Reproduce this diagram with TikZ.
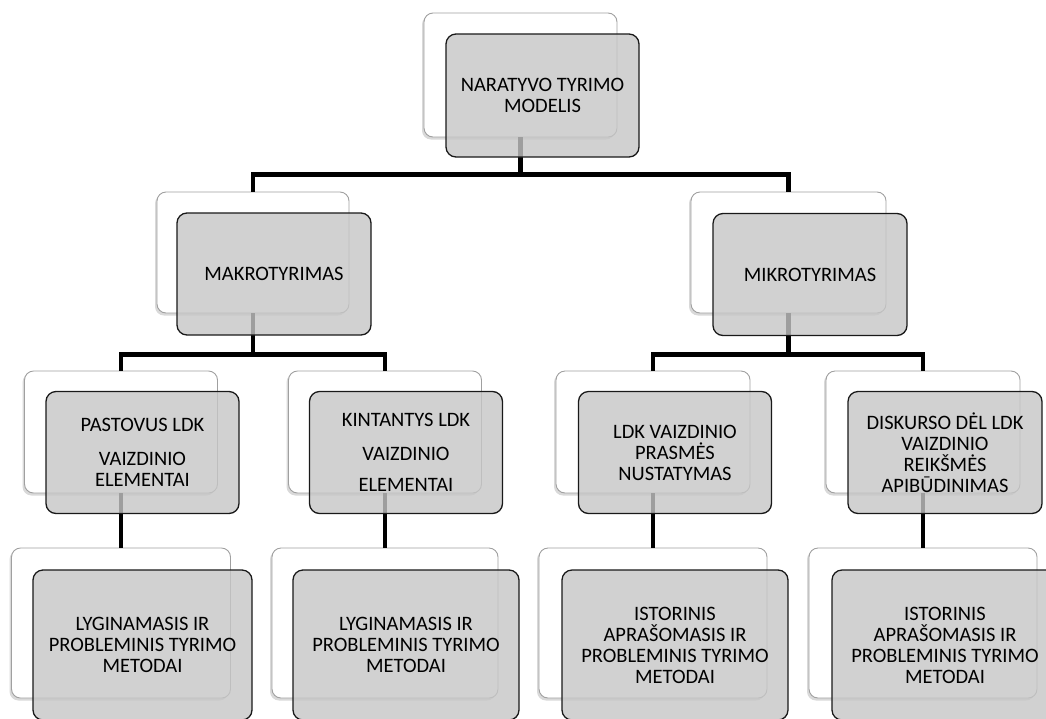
\documentclass[tikz,border=0pt]{standalone}
\usepackage{fontspec}
\setmainfont{Carlito}
\usetikzlibrary{shadows}
\definecolor{fgfill}{RGB}{198,198,198}
\definecolor{bkline}{RGB}{160,160,160}
\begin{document}
\begin{tikzpicture}[x=1pt,y=-1pt,
  backbox/.style={draw=bkline, line width=0.9pt, fill=white, rounded corners=9pt, inner sep=0pt,
    drop shadow={shadow xshift=-2pt, shadow yshift=-2.5pt, opacity=0.25, fill=black!60}},
  frontbox/.style={draw=black!90, line width=1.3pt, fill=fgfill, fill opacity=0.8, text opacity=1,
    rounded corners=10pt, inner sep=0pt, align=center, font=\fontsize{20.5}{21}\selectfont},
  conn/.style={line width=4.5pt, black, line join=miter}
]
\useasboundingbox (0,0) rectangle (1046,718);

% back boxes
\node[backbox, minimum width=193pt, minimum height=124pt] (tB) at (520.5,75) {};
\node[backbox, minimum width=192pt, minimum height=121pt] (makB) at (253,252.5) {};
\node[backbox, minimum width=195pt, minimum height=121pt] (mikB) at (788.5,252.5) {};
\node[backbox, minimum width=193pt, minimum height=122pt] (p1B) at (121,432) {};
\node[backbox, minimum width=193pt, minimum height=122pt] (p2B) at (385,432) {};
\node[backbox, minimum width=194pt, minimum height=122pt] (p3B) at (653,432) {};
\node[backbox, minimum width=194pt, minimum height=122pt] (p4B) at (923,432) {};
\node[backbox, minimum width=219pt, minimum height=150pt] (q1B) at (121,623) {};
\node[backbox, minimum width=226pt, minimum height=150pt] (q2B) at (385,623) {};
\node[backbox, minimum width=228pt, minimum height=150pt] (q3B) at (653,623) {};
\node[backbox, minimum width=228pt, minimum height=150pt] (q4B) at (923,623) {};

% connectors
\path (tB.south) ++(0,37) coordinate (j1);
\path (makB.south) ++(0,41) coordinate (j2);
\path (mikB.south) ++(0,41) coordinate (j3);
\draw[conn] (tB.south) -- (j1);
\draw[conn] (makB.north) |- (j1) -| (mikB.north);
\draw[conn] (makB.south) -- (j2);
\draw[conn] (p1B.north) |- (j2) -| (p2B.north);
\draw[conn] (mikB.south) -- (j3);
\draw[conn] (p3B.north) |- (j3) -| (p4B.north);
\draw[conn] (p1B.south) -- (q1B.north);
\draw[conn] (p2B.south) -- (q2B.north);
\draw[conn] (p3B.south) -- (q3B.north);
\draw[conn] (p4B.south) -- (q4B.north);

% front boxes
\node[frontbox, minimum width=193pt, minimum height=123pt] (t) at (542.5,95.5) {NARATYVO TYRIMO\\MODELIS};
\node[frontbox, minimum width=194pt, minimum height=122pt] (mak) at (274,274) {MAKROTYRIMAS};
\node[frontbox, minimum width=194pt, minimum height=122pt] (mik) at (810,274.5) {MIKROTYRIMAS};
\node[frontbox, minimum width=193pt, minimum height=122pt] (p1) at (142.5,452.5) {PASTOVUS LDK\\[13pt]VAIZDINIO\\ELEMENTAI};
\node[frontbox, minimum width=193pt, minimum height=122pt] (p2) at (406,452.5) {KINTANTYS LDK\\[13pt]VAIZDINIO\\[10pt]ELEMENTAI};
\node[frontbox, minimum width=193pt, minimum height=122pt] (p3) at (675,452.5) {LDK VAIZDINIO\\PRASMĖS\\NUSTATYMAS};
\node[frontbox, minimum width=194pt, minimum height=122pt] (p4) at (945,452.5) {DISKURSO DĖL LDK\\VAIZDINIO\\REIKŠMĖS\\APIBŪDINIMAS};
\node[frontbox, minimum width=219pt, minimum height=150pt] (q1) at (142.5,645) {LYGINAMASIS IR\\PROBLEMINIS TYRIMO\\METODAI};
\node[frontbox, minimum width=226pt, minimum height=150pt] (q2) at (406,645) {LYGINAMASIS IR\\PROBLEMINIS TYRIMO\\METODAI};
\node[frontbox, minimum width=226pt, minimum height=150pt] (q3) at (675,645) {ISTORINIS\\APRAŠOMASIS IR\\PROBLEMINIS TYRIMO\\METODAI};
\node[frontbox, minimum width=226pt, minimum height=150pt] (q4) at (945,645) {ISTORINIS\\APRAŠOMASIS IR\\PROBLEMINIS TYRIMO\\METODAI};
\end{tikzpicture}
\end{document}
